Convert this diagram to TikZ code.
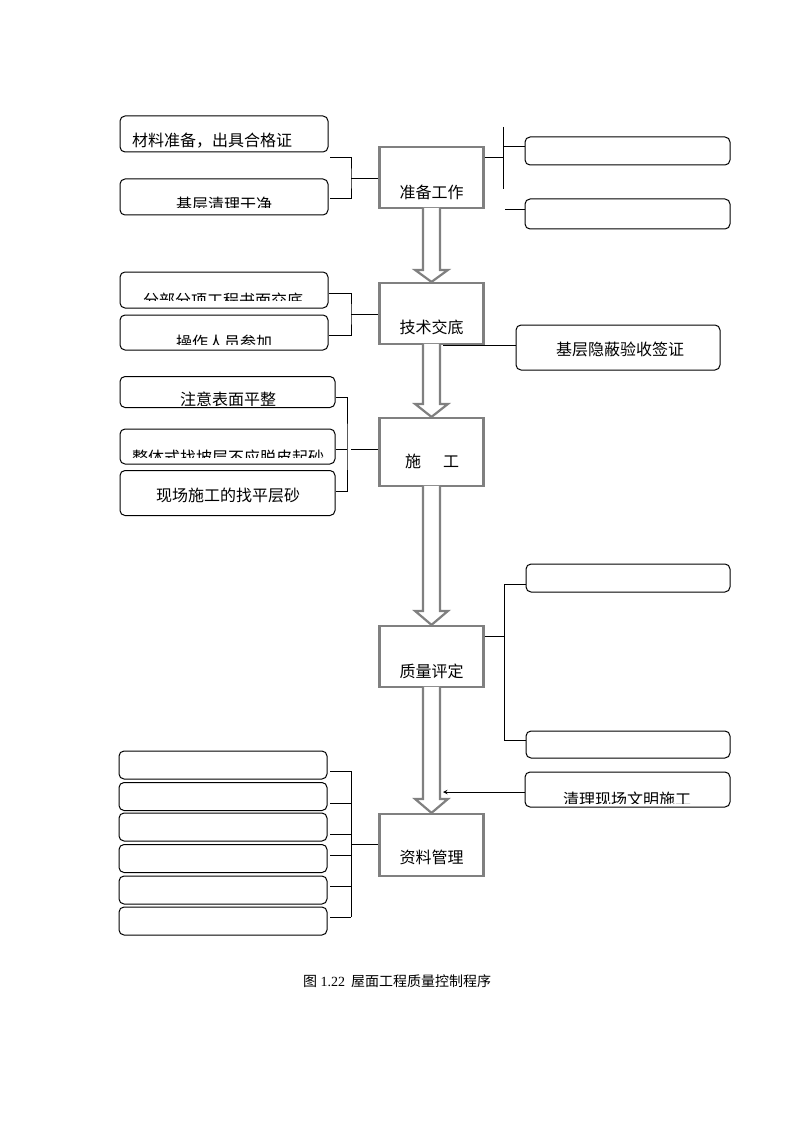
\documentclass[tikz,border=0pt]{standalone}
\usepackage{fontspec}
\setmainfont{Liberation Serif}
\newfontfamily\cjk{Noto Sans CJK SC}
\usetikzlibrary{calc}
\definecolor{grayline}{RGB}{128,128,128}

\begin{document}
\begin{tikzpicture}[x=1pt,y=-1pt,
  gbox/.style={draw=grayline,line width=2.2pt,inner sep=0pt,minimum width=104},
  rbox/.style={draw=black,line width=1pt,rounded corners=5pt,inner sep=0pt},
  txt/.style={font=\cjk\fontsize{16}{18}\selectfont,inner sep=0pt},
  barrow/.style={draw=grayline,fill=white,line width=2.2pt},
  link/.style={black,line width=1pt}]

\useasboundingbox (0,0) rectangle (794,1123);

\node[gbox,minimum height=61] (prep) at (431.5,177.5) {};
\node[txt] (prept) at (431.5,192.5) {准备工作};
\node[gbox,minimum height=61] (tech) at (431.5,313.5) {};
\node[txt] (techt) at (431.5,327.5) {技术交底};
\node[gbox,minimum height=68] (build) at (431.5,452) {};
\node[txt] (buildt) at (432,461) {施\hspace{22pt}工};
\node[gbox,minimum height=61] (qual) at (431.5,656.5) {};
\node[txt] (qualt) at (431.5,671) {质量评定};
\node[gbox,minimum height=62] (data) at (431.5,845) {};
\node[txt] (datat) at (431.5,857) {资料管理};

\node[rbox,minimum width=208,minimum height=36] (mat) at (224,134) {};
\node[txt] (matt) at (212,141) {材料准备，出具合格证};
\begin{scope}
\clip (120,180) rectangle (328,208);
\node[txt] (cleant) at (224,204) {基层清理干净};
\end{scope}
\node[rbox,minimum width=208,minimum height=36] (clean) at (224,197) {};

\node[rbox,minimum width=205,minimum height=28] (r1) at (627.5,151) {};
\node[rbox,minimum width=205,minimum height=30] (r2) at (627.5,214) {};

\begin{scope}
\clip (120,273) rectangle (328,300);
\node[txt] (tdoct) at (223,300) {分部分项工程书面交底};
\end{scope}
\node[rbox,minimum width=208,minimum height=36] (tdoc) at (224,290) {};
\begin{scope}
\clip (120,316) rectangle (328,344);
\node[txt] (opst) at (224,342) {操作人员参加};
\end{scope}
\node[rbox,minimum width=208,minimum height=35] (ops) at (224,332.5) {};

\node[rbox,minimum width=204,minimum height=45] (hide) at (618,347.5) {};
\node[txt] (hidet) at (620,349) {基层隐蔽验收签证};

\begin{scope}
\clip (120,377) rectangle (335,405);
\node[txt] (flatt) at (228,399) {注意表面平整};
\end{scope}
\node[rbox,minimum width=215,minimum height=31] (flat) at (227.5,392) {};
\begin{scope}
\clip (120,430) rectangle (335,457);
\node[txt] (slopet) at (228,457) {整体式找坡层不应脱皮起砂};
\end{scope}
\node[rbox,minimum width=215,minimum height=35] (slope) at (227.5,446.5) {};
\node[rbox,minimum width=215,minimum height=45] (sand) at (227.5,493) {};
\node[txt] (sandt) at (228,495) {现场施工的找平层砂};

\node[rbox,minimum width=204,minimum height=28] (q1) at (628,578) {};
\node[rbox,minimum width=204,minimum height=27] (q2) at (628,744.5) {};

\foreach \i/\y in {1/765,2/796.5,3/827,4/858.5,5/890,6/921}
  \node[rbox,minimum width=208,minimum height=28] (d\i) at (223,\y) {};

\begin{scope}
\clip (526,773) rectangle (730,803);
\node[txt] (tidyt) at (627,799) {清理现场文明施工};
\end{scope}
\node[rbox,minimum width=205,minimum height=35] (tidy) at (627.5,789.5) {};

\coordinate (s1) at (330,158);
\coordinate (s2) at (330,199);
\coordinate (j1) at (351,179);
\draw[link] (s1) -| (j1) |- (s2);
\draw[link] (j1) -- (prep.west |- j1);

\coordinate (j2) at (503,158);
\coordinate (v2a) at (503,127);
\coordinate (v2b) at (503,189);
\coordinate (c1) at (503,147);
\coordinate (c2) at (505,210);
\draw[link] (prep.east |- j2) -- (j2);
\draw[link] (v2a) -- (v2b);
\draw[link] (c1) -- (r1.west |- c1);
\draw[link] (c2) -- (r2.west |- c2);

\coordinate (s3) at (329,293);
\coordinate (s4) at (329,335);
\coordinate (j3) at (351,314);
\draw[link] (s3) -| (j3) |- (s4);
\draw[link] (j3) -- (tech.west |- j3);
\coordinate (c3) at (443,345);
\draw[link] (c3) -- (hide.west |- c3);

\coordinate (s5) at (336,397);
\coordinate (s6) at (336,449);
\coordinate (s7) at (336,491);
\coordinate (j4) at (347,449);
\coordinate (j5) at (351,449);
\draw[link] (s5) -| (j4) |- (s7);
\draw[link] (s6) -- (j4);
\draw[link] (j5) -- (build.west |- j5);

\coordinate (j6) at (504,636);
\coordinate (c4) at (504,584);
\coordinate (c5) at (504,740);
\draw[link] (qual.east |- j6) -- (j6);
\draw[link] (q1.west |- c4) -- (c4) -- (c5) -- (q2.west |- c5);

\coordinate (j7) at (351,844);
\foreach \y in {771,803,834,855,886,917}
  \draw[link] (330,\y) -- (351,\y);
\draw[link] (351,771) -- (351,917);
\draw[link] (j7) -- (data.west |- j7);

\filldraw[barrow] ($(prep.south)+(-8.5,-1.2)$) -- ($(tech.north)+(-8.5,-12)$) -- ($(tech.north)+(-16.5,-12)$) -- (tech.north) -- ($(tech.north)+(16.5,-12)$) -- ($(tech.north)+(8.5,-12)$) -- ($(prep.south)+(8.5,-1.2)$);
\filldraw[barrow] ($(tech.south)+(-8.5,-1.2)$) -- ($(build.north)+(-8.5,-13)$) -- ($(build.north)+(-16.5,-13)$) -- (build.north) -- ($(build.north)+(16.5,-13)$) -- ($(build.north)+(8.5,-13)$) -- ($(tech.south)+(8.5,-1.2)$);
\filldraw[barrow] ($(build.south)+(-8.5,-1.2)$) -- ($(qual.north)+(-8.5,-14)$) -- ($(qual.north)+(-16.5,-14)$) -- (qual.north) -- ($(qual.north)+(16.5,-14)$) -- ($(qual.north)+(8.5,-14)$) -- ($(build.south)+(8.5,-1.2)$);
\filldraw[barrow] ($(qual.south)+(-8.5,-1.2)$) -- ($(data.north)+(-8.5,-14)$) -- ($(data.north)+(-16.5,-14)$) -- (data.north) -- ($(data.north)+(16.5,-14)$) -- ($(data.north)+(8.5,-14)$) -- ($(qual.south)+(8.5,-1.2)$);

\coordinate (a5) at (443,792);
\draw[link,->,>=stealth] (tidy.west |- a5) -- (a5);

\node[font=\fontsize{14}{16}\selectfont,inner sep=0pt] (cap) at (397,981) {{\cjk 图} 1.22\hspace{6pt}{\cjk 屋面工程质量控制程序}};

\end{tikzpicture}
\end{document}
